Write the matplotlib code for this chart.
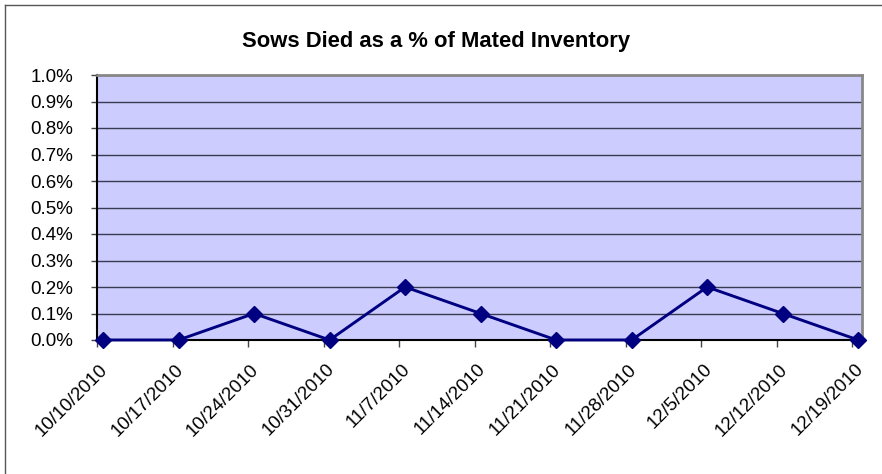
import matplotlib
matplotlib.use('Agg')
import matplotlib.pyplot as plt
from matplotlib.lines import Line2D
from matplotlib.ticker import FuncFormatter

# weekly values, percent of mated inventory
weeks = ['10/10/2010', '10/17/2010', '10/24/2010', '10/31/2010', '11/7/2010',
         '11/14/2010', '11/21/2010', '11/28/2010', '12/5/2010', '12/12/2010',
         '12/19/2010']
died_pct = [0.0, 0.0, 0.1, 0.0, 0.2, 0.1, 0.0, 0.0, 0.2, 0.1, 0.0]
y_ticks = [0.0, 0.1, 0.2, 0.3, 0.4, 0.5, 0.6, 0.7, 0.8, 0.9, 1.0]

plt.rcParams['font.family'] = ['Liberation Sans', 'DejaVu Sans']

W, H = 882, 474
fig = plt.figure(figsize=(W / 100, H / 100), dpi=100)
ax = fig.add_axes([97 / W, 1 - 340 / H, (862 - 97) / W, (340 - 75) / H])

x = list(range(len(weeks)))
ax.plot(x, died_pct, color='#000080', lw=2.1, marker='D', markersize=8,
        clip_on=False, zorder=5)

ax.set_facecolor('#CCCCFF')
ax.set_xlim(-0.066, 10.05)
ax.set_ylim(0, 1.0)
ax.set_yticks(y_ticks)
ax.yaxis.set_major_formatter(FuncFormatter(lambda v, p: f'{v:.1f}%'))
ax.grid(axis='y', color='#3a3a50', lw=1)
ax.set_axisbelow(True)

# labels hang off the points, the small tick marks sit a bit to the left
ax.set_xticks([i - 0.05 for i in x])
ax.set_xticklabels(weeks, rotation=45, ha='right', rotation_mode='anchor')
ax.set_xticks([i - 0.08 for i in x], minor=True)
ax.tick_params(axis='x', which='major', length=0, pad=15, labelsize=13.5)
ax.tick_params(axis='x', which='minor', length=5, direction='out',
               color='#444444', width=1)
ax.tick_params(axis='y', labelsize=13.5, direction='out', length=4,
               pad=13, color='#444444', width=1)

for side in ('top', 'right'):
    ax.spines[side].set_color('#888888')
    ax.spines[side].set_linewidth(2)
for side in ('left', 'bottom'):
    ax.spines[side].set_color('#000000')
    ax.spines[side].set_linewidth(1.5)

fig.text(436 / W, 1 - 42 / H, 'Sows Died as a % of Mated Inventory',
         ha='center', va='center', fontsize=15.8, fontweight='bold')

# outer chart border (only top and left visible)
fig.add_artist(Line2D([5 / W, 1.0], [1 - 5 / H, 1 - 5 / H],
                      transform=fig.transFigure, color='#555555', lw=1))
fig.add_artist(Line2D([5 / W, 5 / W], [0, 1 - 5 / H],
                      transform=fig.transFigure, color='#555555', lw=1))

fig.savefig('out.png', dpi=100)
